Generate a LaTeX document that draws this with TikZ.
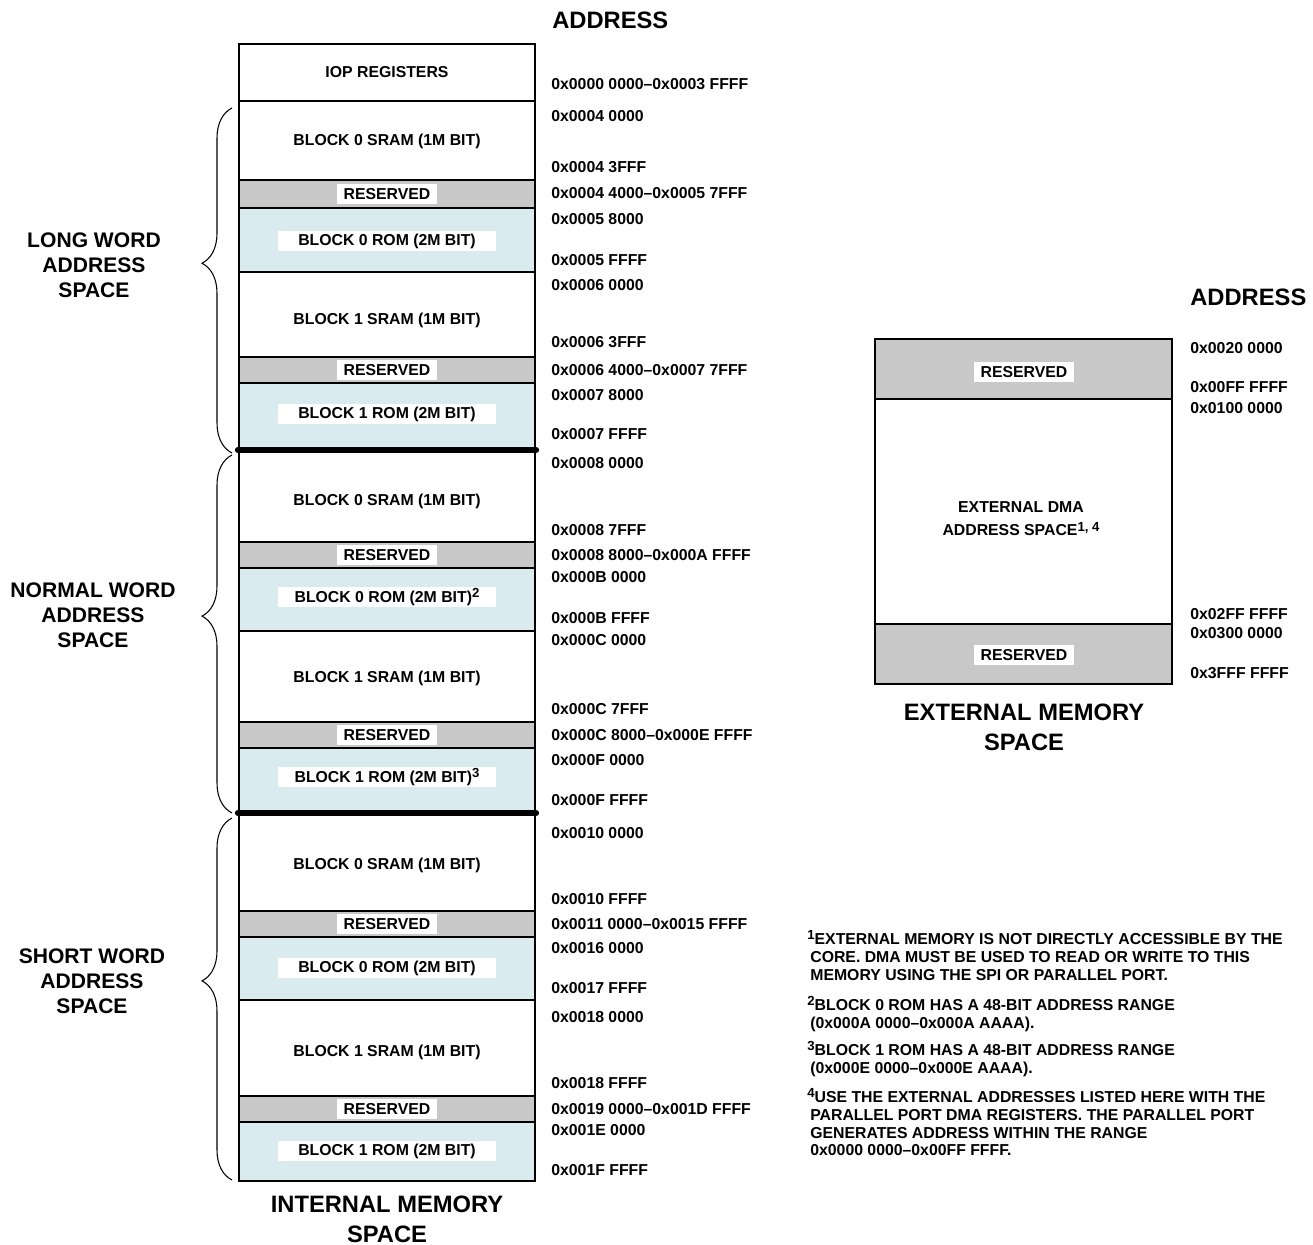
\documentclass[tikz,border=0pt]{standalone}
\usepackage{fontspec}
\setmainfont{Liberation Sans}
\usetikzlibrary{decorations.pathreplacing}
\newcommand\fnmark[1]{\raisebox{0.3em}{\fontsize{7.5}{8}\selectfont #1}}

\begin{document}
\begin{tikzpicture}[x=0.02cm, y=-0.02cm,
  cell/.style={draw=black, line width=0.8pt},
  sram/.style={cell, fill=white},
  rsvd/.style={cell, fill=rsvdgray},
  rom/.style={cell, fill=romblue},
  txt/.style={font=\fontsize{9}{10.2}\selectfont\bfseries, inner sep=0pt},
  tag/.style={txt, fill=white, minimum height=0.39cm},
  rsvdtag/.style={tag, minimum width=2.0cm},
  romtag/.style={tag, minimum width=4.38cm},
  addr/.style={txt, anchor=west},
  title/.style={font=\fontsize{13.5}{17}\selectfont\bfseries, align=center, inner sep=0pt},
  group/.style={font=\fontsize{12}{14.2}\selectfont\bfseries, align=center, inner sep=0pt},
  bound/.style={line width=3.6pt, line cap=round},
  span/.style={decorate, decoration={brace, amplitude=0.6cm, aspect=0.55}, line width=0.6pt},
  note/.style={txt, align=left, anchor=north west}]
\definecolor{rsvdgray}{HTML}{C8C8C8}
\definecolor{romblue}{HTML}{D9EBEE}
\useasboundingbox (0,0) rectangle (1313,1245);

\node[title, anchor=west] (ihead) at (552,20) {ADDRESS};
\filldraw[sram] (239,44) rectangle (535,101);
\node[txt] (iop) at (387,72) {IOP REGISTERS};
\filldraw[sram] (239,101) rectangle (535,180);
\node[txt] (sramA0) at (387,141) {BLOCK 0 SRAM (1M BIT)};
\filldraw[rsvd] (239,180) rectangle (535,208);
\node[rsvdtag] (rsvdA0) at (387,194) {RESERVED};
\filldraw[rom] (239,208) rectangle (535,272);
\node[romtag] (romA0) at (387,241) {BLOCK 0 ROM (2M BIT)};
\filldraw[sram] (239,272) rectangle (535,357);
\node[txt] (sramA1) at (387,320) {BLOCK 1 SRAM (1M BIT)};
\filldraw[rsvd] (239,357) rectangle (535,383);
\node[rsvdtag] (rsvdA1) at (387,370) {RESERVED};
\filldraw[rom] (239,383) rectangle (535,450);
\node[romtag] (romA1) at (387,414) {BLOCK 1 ROM (2M BIT)};
\filldraw[sram] (239,450) rectangle (535,542);
\node[txt] (sramB0) at (387,501) {BLOCK 0 SRAM (1M BIT)};
\filldraw[rsvd] (239,542) rectangle (535,568);
\node[rsvdtag] (rsvdB0) at (387,555) {RESERVED};
\filldraw[rom] (239,568) rectangle (535,631);
\node[romtag] (romB0) at (387,597) {BLOCK 0 ROM (2M BIT)\fnmark{2}};
\filldraw[sram] (239,631) rectangle (535,722);
\node[txt] (sramB1) at (387,678) {BLOCK 1 SRAM (1M BIT)};
\filldraw[rsvd] (239,722) rectangle (535,748);
\node[rsvdtag] (rsvdB1) at (387,735) {RESERVED};
\filldraw[rom] (239,748) rectangle (535,813);
\node[romtag] (romB1) at (387,777) {BLOCK 1 ROM (2M BIT)\fnmark{3}};
\filldraw[sram] (239,813) rectangle (535,911);
\node[txt] (sramC0) at (387,865) {BLOCK 0 SRAM (1M BIT)};
\filldraw[rsvd] (239,911) rectangle (535,937);
\node[rsvdtag] (rsvdC0) at (387,924) {RESERVED};
\filldraw[rom] (239,937) rectangle (535,1000);
\node[romtag] (romC0) at (387,968) {BLOCK 0 ROM (2M BIT)};
\filldraw[sram] (239,1000) rectangle (535,1096);
\node[txt] (sramC1) at (387,1052) {BLOCK 1 SRAM (1M BIT)};
\filldraw[rsvd] (239,1096) rectangle (535,1122);
\node[rsvdtag] (rsvdC1) at (387,1109) {RESERVED};
\filldraw[rom] (239,1122) rectangle (535,1181);
\node[romtag] (romC1) at (387,1151) {BLOCK 1 ROM (2M BIT)};
\draw[bound] (238,450) -- (536,450);
\draw[bound] (238,813) -- (536,813);

\node[addr] (a1) at (551,84) {0x0000 0000--0x0003 FFFF};
\node[addr] (a2) at (551,116) {0x0004 0000};
\node[addr] (a3) at (551,167) {0x0004 3FFF};
\node[addr] (a4) at (551,193) {0x0004 4000--0x0005 7FFF};
\node[addr] (a5) at (551,219) {0x0005 8000};
\node[addr] (a6) at (551,260) {0x0005 FFFF};
\node[addr] (a7) at (551,285) {0x0006 0000};
\node[addr] (a8) at (551,342) {0x0006 3FFF};
\node[addr] (a9) at (551,370) {0x0006 4000--0x0007 7FFF};
\node[addr] (a10) at (551,395) {0x0007 8000};
\node[addr] (a11) at (551,434) {0x0007 FFFF};
\node[addr] (a12) at (551,463) {0x0008 0000};
\node[addr] (a13) at (551,530) {0x0008 7FFF};
\node[addr] (a14) at (551,555) {0x0008 8000--0x000A FFFF};
\node[addr] (a15) at (551,577) {0x000B 0000};
\node[addr] (a16) at (551,618) {0x000B FFFF};
\node[addr] (a17) at (551,640) {0x000C 0000};
\node[addr] (a18) at (551,709) {0x000C 7FFF};
\node[addr] (a19) at (551,735) {0x000C 8000--0x000E FFFF};
\node[addr] (a20) at (551,760) {0x000F 0000};
\node[addr] (a21) at (551,800) {0x000F FFFF};
\node[addr] (a22) at (551,833) {0x0010 0000};
\node[addr] (a23) at (551,899) {0x0010 FFFF};
\node[addr] (a24) at (551,924) {0x0011 0000--0x0015 FFFF};
\node[addr] (a25) at (551,948) {0x0016 0000};
\node[addr] (a26) at (551,988) {0x0017 FFFF};
\node[addr] (a27) at (551,1017) {0x0018 0000};
\node[addr] (a28) at (551,1083) {0x0018 FFFF};
\node[addr] (a29) at (551,1109) {0x0019 0000--0x001D FFFF};
\node[addr] (a30) at (551,1130) {0x001E 0000};
\node[addr] (a31) at (551,1170) {0x001F FFFF};

\draw[span] (232,453) -- (232,108);
\draw[span] (232,813) -- (232,455);
\draw[span] (232,1180) -- (232,818);
\node[group] (longw) at (94,265) {LONG WORD\\ADDRESS\\SPACE};
\node[group] (normw) at (93,615) {NORMAL WORD\\ADDRESS\\SPACE};
\node[group] (shortw) at (92,981) {SHORT WORD\\ADDRESS\\SPACE};
\node[title] (intl) at (387,1219) {INTERNAL MEMORY\\SPACE};

\node[title, anchor=west] (ehead) at (1190,297) {ADDRESS};
\filldraw[rsvd] (875,339) rectangle (1172,399);
\node[rsvdtag] (rsvdX0) at (1024,372) {RESERVED};
\filldraw[sram] (875,399) rectangle (1172,624);
\node[txt, align=center, font=\fontsize{9}{13}\selectfont\bfseries] (dma) at (1021,519) {EXTERNAL DMA\\ADDRESS SPACE\fnmark{1, 4}};
\filldraw[rsvd] (875,624) rectangle (1172,684);
\node[rsvdtag] (rsvdX1) at (1024,655) {RESERVED};
\node[addr] (e1) at (1190,348) {0x0020 0000};
\node[addr] (e2) at (1190,387) {0x00FF FFFF};
\node[addr] (e3) at (1190,408) {0x0100 0000};
\node[addr] (e4) at (1190,614) {0x02FF FFFF};
\node[addr] (e5) at (1190,633) {0x0300 0000};
\node[addr] (e6) at (1190,673) {0x3FFF FFFF};
\node[title] (extl) at (1024,727) {EXTERNAL MEMORY\\SPACE};

\node[note] (fn1) at (807,930) {\fnmark{1}EXTERNAL MEMORY IS NOT DIRECTLY ACCESSIBLE BY THE\\\hspace*{0.06cm}CORE. DMA MUST BE USED TO READ OR WRITE TO THIS\\\hspace*{0.06cm}MEMORY USING THE SPI OR PARALLEL PORT.};
\node[note] (fn2) at (807,996) {\fnmark{2}BLOCK 0 ROM HAS A 48-BIT ADDRESS RANGE\\\hspace*{0.06cm}(0x000A 0000--0x000A AAAA).};
\node[note] (fn3) at (807,1041) {\fnmark{3}BLOCK 1 ROM HAS A 48-BIT ADDRESS RANGE\\\hspace*{0.06cm}(0x000E 0000--0x000E AAAA).};
\node[note] (fn4) at (807,1088) {\fnmark{4}USE THE EXTERNAL ADDRESSES LISTED HERE WITH THE\\\hspace*{0.06cm}PARALLEL PORT DMA REGISTERS. THE PARALLEL PORT\\\hspace*{0.06cm}GENERATES ADDRESS WITHIN THE RANGE\\\hspace*{0.06cm}0x0000 0000--0x00FF FFFF.};
\end{tikzpicture}
\end{document}
